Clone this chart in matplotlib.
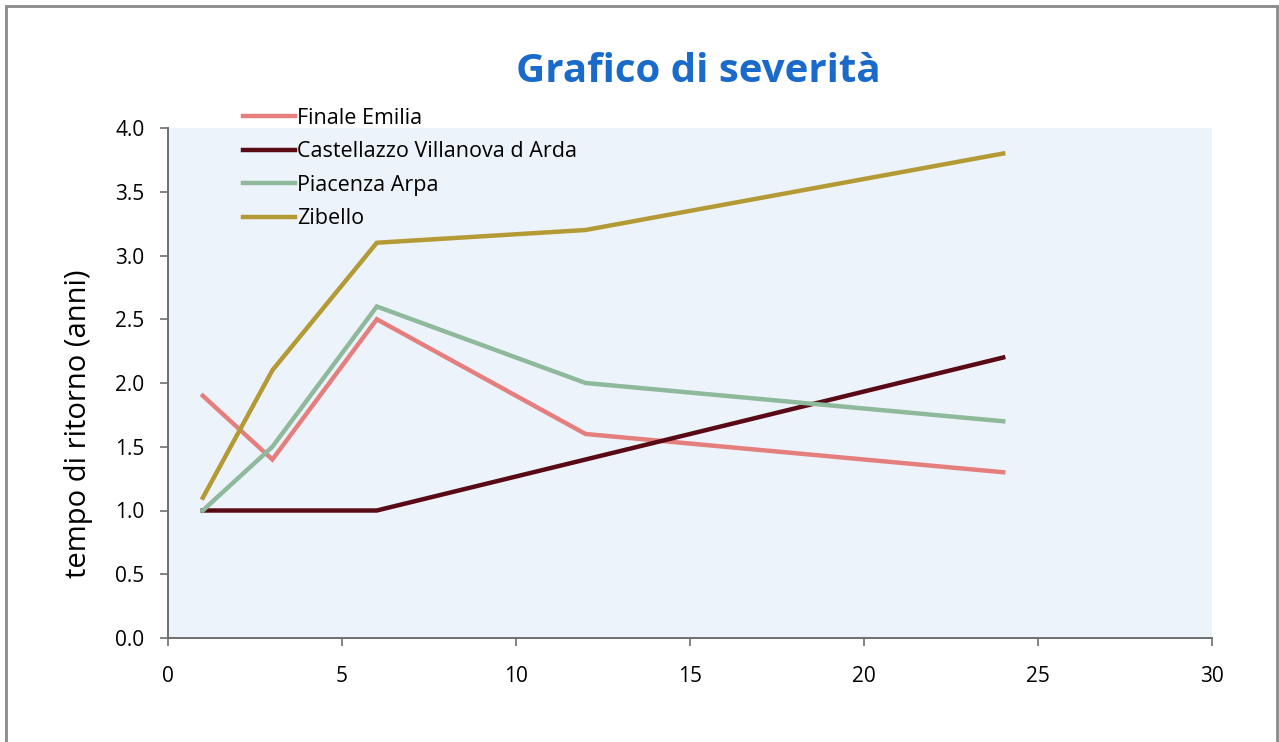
import numpy as np
import matplotlib.pyplot as plt
from matplotlib.patches import Rectangle
from matplotlib.ticker import FormatStrFormatter

# durata (mesi) e tempo di ritorno per stazione
durata = [1, 3, 6, 12, 24]
finale_emilia = [1.9, 1.4, 2.5, 1.6, 1.3]
castellazzo = [1.0, 1.0, 1.0, 1.4, 2.2]
piacenza_arpa = [1.0, 1.5, 2.6, 2.0, 1.7]
zibello = [1.1, 2.1, 3.1, 3.2, 3.8]

serie = [
    ("Finale Emilia", finale_emilia, "#E47F7E"),
    ("Castellazzo Villanova d Arda", castellazzo, "#5A0A14"),
    ("Piacenza Arpa", piacenza_arpa, "#8EB99B"),
    ("Zibello", zibello, "#B49A35"),
]

plt.rcParams['font.family'] = ['Open Sans', 'DejaVu Sans']

fig = plt.figure(figsize=(12.79, 7.42), dpi=100)
ax = fig.add_axes([168 / 1279, 1 - 638 / 742, (1212 - 168) / 1279, (638 - 128) / 742])
ax.set_facecolor("#EDF3FA")

for nome, valori, colore in serie:
    ax.plot(durata, valori, color=colore, lw=3.2, label=nome, solid_joinstyle='miter')

ax.set_xlim(0, 30)
ax.set_ylim(0, 4)
ax.set_xticks(range(0, 31, 5))
ax.set_yticks(np.arange(0, 4.01, 0.5))
ax.yaxis.set_major_formatter(FormatStrFormatter('%.1f'))
ax.tick_params(labelsize=15, length=6, width=1.2, color="#6E6E6E", direction='out')
ax.tick_params(axis='y', pad=11)
ax.tick_params(axis='x', pad=14)

for lato in ['top', 'right']:
    ax.spines[lato].set_visible(False)
for lato in ['left', 'bottom']:
    ax.spines[lato].set_color("#6E6E6E")
    ax.spines[lato].set_linewidth(1.4)

ax.set_ylabel("tempo di ritorno (anni)", fontsize=21)
ax.yaxis.set_label_coords(-0.072, 0.42)

fig.text(698 / 1279, 1 - 72 / 742, "Grafico di severità", fontsize=29, fontweight='bold',
         color="#1A6ACB", ha='center', va='center')

fig.legend(loc='upper left', bbox_to_anchor=(243 / 1279, 1 - 108 / 742), frameon=False,
           fontsize=15.5, handlelength=2.4, handletextpad=0.12, labelspacing=0.58,
           borderaxespad=0, borderpad=0)

fig.patches.append(Rectangle((6 / 1279, -0.05), 1271 / 1279, 1.05 - 6 / 742,
                             transform=fig.transFigure, fill=False,
                             edgecolor="#8A8A8A", lw=2, zorder=10))

fig.savefig("out.png", dpi=100)
